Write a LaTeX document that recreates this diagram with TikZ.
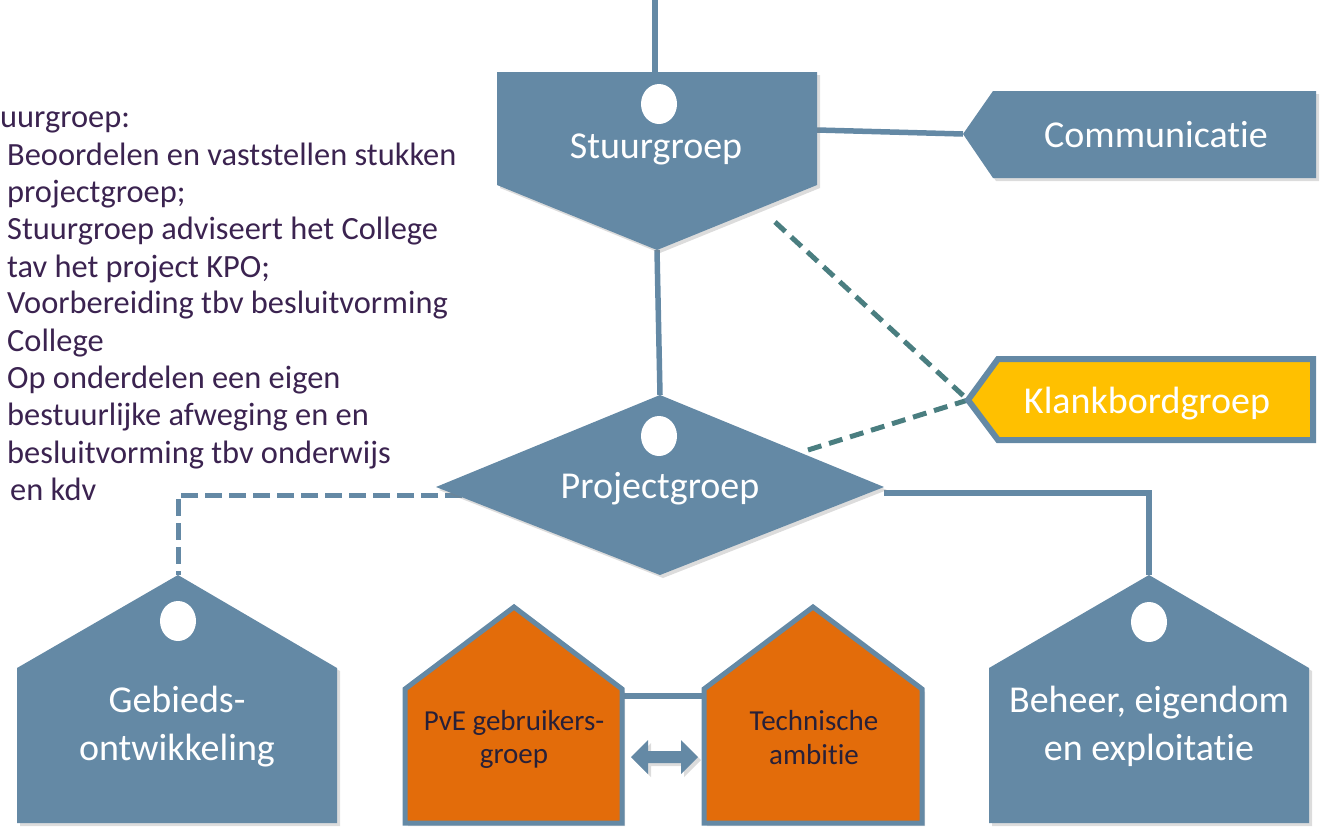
\documentclass[tikz,border=0pt]{standalone}
\usepackage{fontspec}
\setmainfont{Carlito}[Ligatures=NoCommon]
\usetikzlibrary{shadows}
\definecolor{slate}{RGB}{100,137,165}
\definecolor{tealdash}{RGB}{74,126,128}
\definecolor{orangefill}{RGB}{227,108,10}
\definecolor{yellowfill}{RGB}{255,192,0}
\definecolor{purpletext}{RGB}{59,35,80}
\definecolor{darktext}{RGB}{40,32,56}
\begin{document}
\begin{tikzpicture}[x=1pt,y=-1pt,
  conn/.style={draw=slate, line width=5.5pt},
  dashconn/.style={draw=slate, line width=5pt, dash pattern=on 17pt off 7pt},
  teallink/.style={draw=tealdash, line width=5pt, dash pattern=on 14pt off 8pt},
  shad/.style={drop shadow={shadow xshift=3pt,shadow yshift=-3pt,opacity=0.28}},
  blueshape/.style={fill=slate, shad},
  orangeshape/.style={fill=orangefill, draw=slate, line width=5pt, line join=miter, shad},
  hole/.style={fill=white},
  lbl/.style={text=white, font=\fontsize{38}{44}\selectfont, inner sep=0pt, anchor=base},
  olbl/.style={text=darktext, font=\fontsize{29}{33}\selectfont, inner sep=0pt, anchor=base},
  lefttxt/.style={text=purpletext, font=\fontsize{32.4}{37}\selectfont, inner sep=0pt, anchor=base west}
]
\useasboundingbox (0,0) rectangle (1320,836);

% anchor coordinates
\coordinate (topend) at (655,0);
\coordinate (stuurN) at (655,72);
\coordinate (stuurS) at (657,250);
\coordinate (stuurE) at (817,130);
\coordinate (stuurD) at (775,222);
\coordinate (commW) at (963,134);
\coordinate (klankW) at (968,400);
\coordinate (projN) at (660,395);
\coordinate (projE) at (884,493);
\coordinate (projW) at (462,495);
\coordinate (projD) at (808,450);
\coordinate (gebN) at (178,575);
\coordinate (behN) at (1149,575);
\coordinate (pveE) at (622,696);
\coordinate (techW) at (704,696);

% connectors
\draw[conn] (topend) -- (stuurN);
\draw[conn] (stuurS) -- (projN);
\draw[conn] (stuurE) -- (commW);
\draw[teallink] (stuurD) -- (klankW);
\draw[teallink] (projD) -- (klankW);
\draw[conn] (projE) -| (behN);
\draw[dashconn] (projW) -| (gebN);
\draw[conn] (pveE) -- (techW);

% shapes
\path[blueshape] (497,72) -- (817,72) -- (817,185) -- (657,250) -- (497,185) -- cycle;
\path[blueshape] (963,134) -- (993,91) -- (1316,91) -- (1316,178) -- (993,178) -- cycle;
\path[fill=yellowfill, draw=slate, line width=6pt, line join=miter] (968,400) -- (998,359) -- (1313,359) -- (1313,440) -- (998,440) -- cycle;
\path[blueshape] (660,395) -- (884,487) -- (660,575) -- (436,487) -- cycle;
\path[blueshape] (178,575) -- (337,668) -- (337,823) -- (17,823) -- (17,668) -- cycle;
\path[blueshape] (1149,575) -- (1309,668) -- (1309,823) -- (989,823) -- (989,668) -- cycle;
\path[orangeshape] (514,607) -- (622,689) -- (622,823) -- (405,823) -- (405,689) -- cycle;
\path[orangeshape] (813,607) -- (922,689) -- (922,823) -- (704,823) -- (704,689) -- cycle;

% double arrow
\path[fill=slate, shad] (631,757) -- (648,740) -- (648,751) -- (681,751) -- (681,740) -- (698,757)
  -- (681,774) -- (681,763) -- (648,763) -- (648,774) -- cycle;

% holes
\fill[hole] (659,104) ellipse [x radius=18, y radius=20];
\fill[hole] (659,436) ellipse [x radius=18, y radius=20];
\fill[hole] (178,621) ellipse [x radius=18, y radius=20];
\fill[hole] (1149,622) ellipse [x radius=18, y radius=20];

% labels
\node[lbl] (stuurT) at (656,158) {Stuurgroep};
\node[lbl] (commT) at (1156,147) {Communicatie};
\node[lbl] (klankT) at (1147,413) {Klankbordgroep};
\node[lbl] (projT) at (660,498) {Projectgroep};
\node[lbl] (gebT1) at (177,712) {Gebieds-};
\node[lbl] (gebT2) at (177,760) {ontwikkeling};
\node[lbl] (behT1) at (1149,712) {Beheer, eigendom};
\node[lbl] (behT2) at (1149,760) {en exploitatie};
\node[olbl] (pveT1) at (514,730) {PvE gebruikers-};
\node[olbl] (pveT2) at (514,763) {groep};
\node[olbl] (techT1) at (814,730) {Technische};
\node[olbl] (techT2) at (814,764) {ambitie};

% left text
\foreach \t/\x/\y [count=\i] in {
  uurgroep:/0/127,
  Beoordelen en vaststellen stukken/7/165,
  projectgroep;/7/202,
  Stuurgroep adviseert het College/7/239,
  tav het project KPO;/7/277,
  Voorbereiding tbv besluitvorming/7/313,
  College/7/351,
  Op onderdelen een eigen/7/388,
  bestuurlijke afweging en en/7/425,
  besluitvorming tbv onderwijs/7/463,
  en kdv/10/500}
  \node[lefttxt] (left\i) at (\x,\y) {\t};
\end{tikzpicture}
\end{document}
